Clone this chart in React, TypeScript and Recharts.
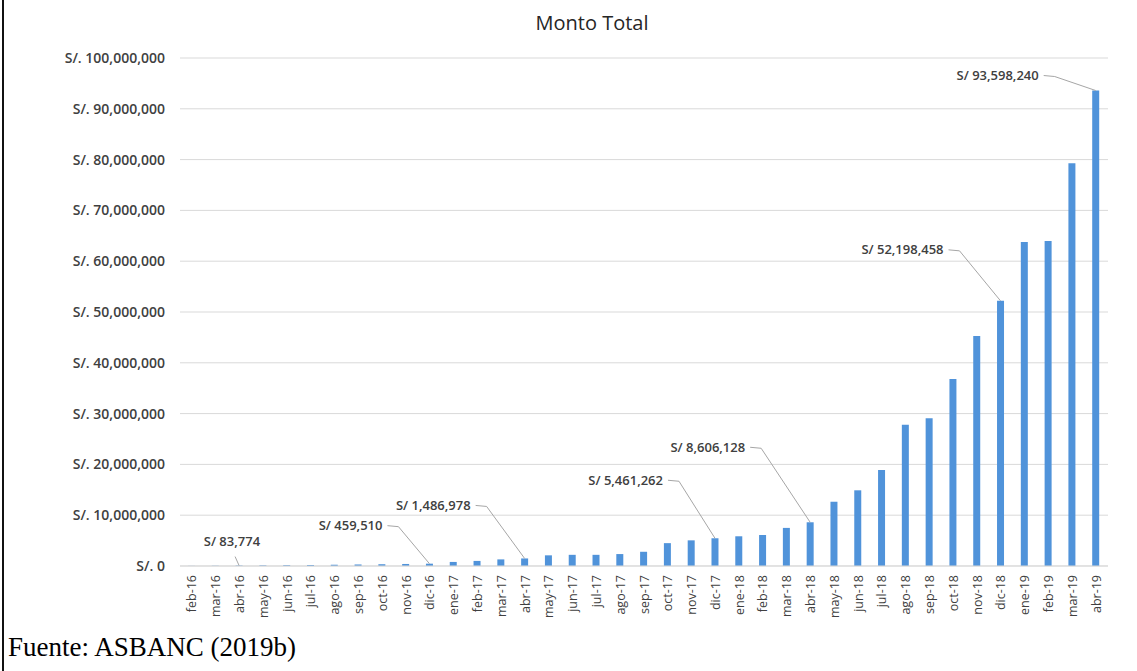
import { BarChart, Bar, XAxis, YAxis, CartesianGrid, LabelList } from 'recharts';

const months = [
  'feb-16', 'mar-16', 'abr-16', 'may-16', 'jun-16', 'jul-16', 'ago-16', 'sep-16', 'oct-16', 'nov-16',
  'dic-16', 'ene-17', 'feb-17', 'mar-17', 'abr-17', 'may-17', 'jun-17', 'jul-17', 'ago-17', 'sep-17',
  'oct-17', 'nov-17', 'dic-17', 'ene-18', 'feb-18', 'mar-18', 'abr-18', 'may-18', 'jun-18', 'jul-18',
  'ago-18', 'sep-18', 'oct-18', 'nov-18', 'dic-18', 'ene-19', 'feb-19', 'mar-19', 'abr-19',
];

// monto total por mes (S/)
const montoTotal = [
  20000, 45000, 83774, 120000, 160000, 200000, 250000, 300000, 350000, 400000,
  459510, 800000, 1000000, 1300000, 1486978, 2100000, 2200000, 2200000, 2350000, 2800000,
  4500000, 5050000, 5461262, 5850000, 6100000, 7500000, 8606128, 12650000, 14900000, 18900000,
  27800000, 29100000, 36800000, 45300000, 52198458, 63800000, 64000000, 79300000, 93598240,
];

const annotatedMonths = ['abr-16', 'dic-16', 'abr-17', 'dic-17', 'abr-18', 'dic-18', 'abr-19'];

const yTicks = [0, 10000000, 20000000, 30000000, 40000000, 50000000, 60000000, 70000000, 80000000, 90000000, 100000000];

// where each callout text ends, relative to the bar top
const calloutOffsets: Record<string, { dx: number; dy: number; short?: boolean }> = {
  'abr-16': { dx: 21, dy: -24, short: true },
  'dic-16': { dx: -47, dy: -38 },
  'abr-17': { dx: -54, dy: -53 },
  'dic-17': { dx: -52, dy: -58 },
  'abr-18': { dx: -65, dy: -75 },
  'dic-18': { dx: -57, dy: -51 },
  'abr-19': { dx: -57, dy: -15 },
};

const data = months.map((m, i) => ({ mes: m, monto: montoTotal[i] }));

const FONT = "'Open Sans', 'Noto Sans', sans-serif";
const TEXT = '#404040';

const fmtSoles = (v: number) => `S/. ${v.toLocaleString('en-US')}`;

const MonthTick = ({ x, y, payload }: any) => (
  <text
    x={x}
    y={y}
    transform={`rotate(-90, ${x}, ${y})`}
    textAnchor="end"
    dy={4.5}
    fill={TEXT}
    fontSize={12.5}
    fontFamily={FONT}
  >
    {payload.value}
  </text>
);

const Callout = (props: any) => {
  const { x, y, width, index } = props;
  const mes = months[index];
  if (!annotatedMonths.includes(mes)) return null;
  const off = calloutOffsets[mes];
  const cx = x + width / 2;
  const tx = cx + off.dx;
  const ty = y + off.dy;
  const points = off.short
    ? `${cx - 4},${y - 9} ${cx},${y}`
    : `${tx + 5},${ty} ${tx + 16},${ty + 1} ${cx},${y}`;
  return (
    <g>
      <polyline points={points} fill="none" stroke="#a6a6a6" strokeWidth={1} />
      <text
        x={tx}
        y={ty}
        dy={4.5}
        textAnchor="end"
        fill={TEXT}
        fontSize={13}
        fontWeight={600}
        fontFamily={FONT}
      >
        {`S/ ${montoTotal[index].toLocaleString('en-US')}`}
      </text>
    </g>
  );
};

export default function App() {
  return (
    <div style={{ position: 'absolute', left: 0, top: 0, width: 1137, height: 671, background: '#fff' }}>
      <div style={{ position: 'absolute', left: 2, top: 0, width: 2, height: 671, background: '#111' }} />
      <div
        style={{
          position: 'absolute',
          left: 0,
          top: 9,
          width: 1184,
          textAlign: 'center',
          fontFamily: FONT,
          fontSize: 20,
          color: '#262626',
          lineHeight: '28px',
        }}
      >
        Monto Total
      </div>
      <div style={{ position: 'absolute', left: 0, top: 0 }}>
        <BarChart
          width={1137}
          height={640}
          data={data}
          margin={{ top: 58, right: 29, left: 0, bottom: 14 }}
          barCategoryGap={0}
        >
          <CartesianGrid vertical={false} stroke="#d9d9d9" />
          <XAxis
            dataKey="mes"
            interval={0}
            height={60}
            axisLine={{ stroke: '#d9d9d9' }}
            tickLine={false}
            tick={<MonthTick />}
            tickMargin={3}
          />
          <YAxis
            width={180}
            domain={[0, 100000000]}
            ticks={yTicks}
            axisLine={false}
            tickLine={false}
            tickMargin={9}
            tickFormatter={fmtSoles}
            tick={{ fill: TEXT, fontSize: 14, fontWeight: 600, fontFamily: FONT }}
          />
          <Bar dataKey="monto" fill="#5093da" barSize={7} isAnimationActive={false}>
            <LabelList dataKey="monto" content={<Callout />} />
          </Bar>
        </BarChart>
      </div>
      <div
        style={{
          position: 'absolute',
          left: 8,
          top: 634,
          fontFamily: "'Liberation Serif', 'Times New Roman', serif",
          fontSize: 27,
          lineHeight: '27px',
          color: '#000',
        }}
      >
        Fuente: ASBANC (2019b)
      </div>
    </div>
  );
}
